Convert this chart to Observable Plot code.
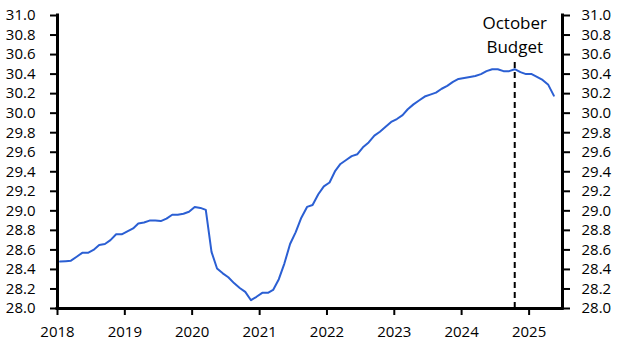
<!DOCTYPE html>
<html>
<head>
<meta charset="utf-8">
<script src="https://cdn.jsdelivr.net/npm/d3@7"></script>
<script src="https://cdn.jsdelivr.net/npm/@observablehq/plot@0.6"></script>
<style>
  html, body { margin: 0; padding: 0; background: #fff; }
  #chart { width: 628px; height: 353px; }
</style>
</head>
<body>
<div id="chart"></div>
<script>
// Monthly series, Jan 2018 – May 2025 (millions)
const startMonth = new Date(Date.UTC(2018, 0, 1));
const values = [
  28.48, 28.485, 28.49, 28.53, 28.57, 28.57, 28.60, 28.65, 28.66, 28.70, 28.76, 28.76,
  28.79, 28.82, 28.87, 28.88, 28.90, 28.90, 28.895, 28.92, 28.96, 28.96, 28.97, 28.99,
  29.04, 29.03, 29.01, 28.58, 28.41, 28.36, 28.32, 28.26, 28.21, 28.17, 28.085, 28.12,
  28.16, 28.16, 28.19, 28.30, 28.46, 28.66, 28.78, 28.93, 29.04, 29.06, 29.17, 29.25,
  29.29, 29.41, 29.48, 29.52, 29.56, 29.58, 29.65, 29.70, 29.77, 29.81, 29.86, 29.91,
  29.94, 29.98, 30.04, 30.09, 30.13, 30.17, 30.19, 30.21, 30.25, 30.28, 30.32, 30.35,
  30.36, 30.37, 30.38, 30.40, 30.43, 30.45, 30.45, 30.43, 30.43, 30.45, 30.42, 30.40,
  30.40, 30.37, 30.34, 30.29, 30.18
];
const yTicks = [28.0, 28.2, 28.4, 28.6, 28.8, 29.0, 29.2, 29.4, 29.6, 29.8, 30.0, 30.2, 30.4, 30.6, 30.8, 31.0];
const yearTicks = [2018, 2019, 2020, 2021, 2022, 2023, 2024, 2025];
const xDomain = [new Date(Date.UTC(2018, 0, 1)), new Date(Date.UTC(2025, 6, 1))];
const yDomain = [28, 31];
const budgetDate = new Date(Date.UTC(2024, 9, 15));
const budgetTop = 30.52;
const budgetLabel = "October\nBudget";

const data = values.map((v, i) => ({
  date: d3.utcDay.offset(d3.utcMonth.offset(startMonth, i), 14),
  value: v
}));
const xTickDates = yearTicks.map(y => new Date(Date.UTC(y, 0, 1)));

const chart = Plot.plot({
  width: 628,
  height: 353,
  marginLeft: 57,
  marginRight: 66,
  marginTop: 15,
  marginBottom: 45,
  style: { fontFamily: "'Open Sans', 'Noto Sans', sans-serif", fontSize: "15px", color: "#000", background: "#fff" },
  x: { type: "utc", domain: xDomain },
  y: { domain: yDomain },
  marks: [
    Plot.axisY(yTicks, { anchor: "left", tickSize: 7, tickPadding: 15, strokeWidth: 2, tickFormat: d => d.toFixed(1), fontSize: 15, label: null }),
    Plot.axisY(yTicks, { anchor: "right", tickSize: 7, tickPadding: 12, strokeWidth: 2, tickFormat: d => d.toFixed(1), fontSize: 15, label: null }),
    Plot.axisX(xTickDates, { anchor: "bottom", tickSize: 7, tickPadding: 11, strokeWidth: 2, tickFormat: d3.utcFormat("%Y"), fontSize: 15, label: null }),
    Plot.ruleX([budgetDate], { y1: yDomain[0], y2: budgetTop, stroke: "#000", strokeWidth: 2, strokeDasharray: "6,4" }),
    Plot.line(data, { x: "date", y: "value", stroke: "#2b5fd3", strokeWidth: 2 }),
    Plot.ruleX(xDomain, { stroke: "#000", strokeWidth: 3, strokeLinecap: "square" }),
    Plot.ruleY([yDomain[0]], { stroke: "#000", strokeWidth: 3, strokeLinecap: "square" }),
    Plot.text([budgetLabel], { x: () => budgetDate, y: () => yDomain[1], text: d => d, lineAnchor: "top", dy: -4, fontSize: 17, lineHeight: 1.43, fill: "#000" })
  ]
});
document.getElementById("chart").appendChild(chart);
</script>
</body>
</html>
